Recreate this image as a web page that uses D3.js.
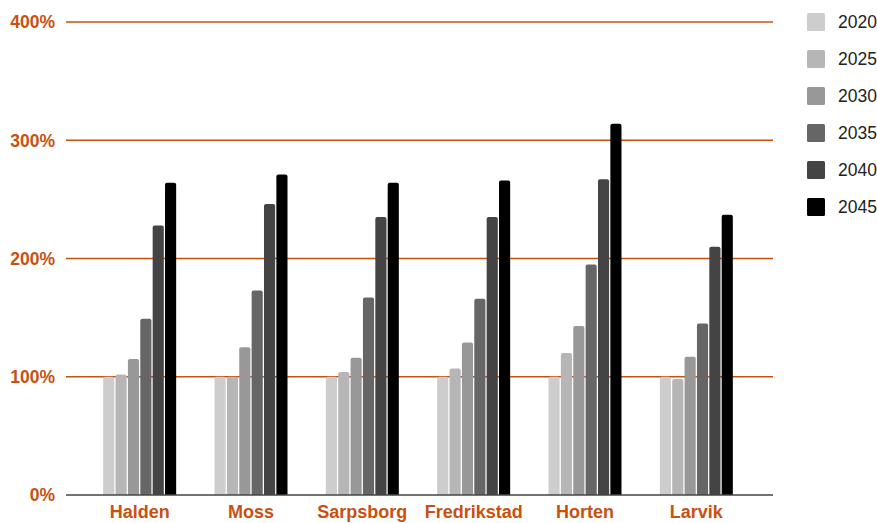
<!DOCTYPE html>
<html>
<head>
<meta charset="utf-8">
<script src="https://cdn.jsdelivr.net/npm/d3@7"></script>
<style>
  html, body { margin: 0; padding: 0; background: #fff; }
  svg { display: block; }
</style>
</head>
<body>
<svg id="chart" width="877" height="523"></svg>
<script>
// Population index by town (2020 = 100%)
const towns = ["Halden", "Moss", "Sarpsborg", "Fredrikstad", "Horten", "Larvik"];
const years = ["2020", "2025", "2030", "2035", "2040", "2045"];
const v2020 = [100, 100, 100, 100, 100, 100];
const v2025 = [102, 100, 104, 107, 120, 98];
const v2030 = [115, 125, 116, 129, 143, 117];
const v2035 = [149, 173, 167, 166, 195, 145];
const v2040 = [228, 246, 235, 235, 267, 210];
const v2045 = [264, 271, 264, 266, 314, 237];
const yTicks = [0, 100, 200, 300, 400];
const yearColors = ["#cdcdcd", "#b6b6b6", "#989898", "#666666", "#444444", "#000000"];

const seriesValues = [v2020, v2025, v2030, v2035, v2040, v2045];

const svg = d3.select("#chart");
const orange = "#c9510f";
const font = "Liberation Sans, Arial, sans-serif";

const y = d3.scaleLinear().domain([0, 400]).range([495, 22]);
const x0 = d3.scaleBand().domain(towns).range([84, 752]).padding(0);
const groupW = 73;
const x1 = d3.scaleBand().domain(years)
  .range([x0.bandwidth() / 2 - groupW / 2, x0.bandwidth() / 2 + groupW / 2])
  .paddingInner(0.1);
const color = d3.scaleOrdinal().domain(years).range(yearColors);

// gridlines
svg.append("g").selectAll("line")
  .data(yTicks.filter(d => d > 0))
  .join("line")
  .attr("x1", 66).attr("x2", 773)
  .attr("y1", d => y(d)).attr("y2", d => y(d))
  .attr("stroke", orange).attr("stroke-width", 1.5);

// tick labels
svg.append("g").selectAll("text")
  .data(yTicks)
  .join("text")
  .attr("x", 55).attr("y", d => y(d))
  .attr("dy", "0.36em")
  .attr("text-anchor", "end")
  .attr("font-family", font)
  .attr("font-weight", "bold")
  .attr("font-size", 17.5)
  .attr("fill", orange)
  .text(d => d + "%");

// bars
const data = towns.map((t, i) => ({
  town: t,
  values: years.map((yr, j) => ({ year: yr, value: seriesValues[j][i] }))
}));

const groups = svg.append("g").selectAll("g")
  .data(data)
  .join("g")
  .attr("transform", d => `translate(${x0(d.town)},0)`);

groups.selectAll("path")
  .data(d => d.values)
  .join("path")
  .attr("fill", d => color(d.year))
  .attr("d", d => {
    const bx = x1(d.year), bw = x1.bandwidth();
    const top = y(d.value), bot = y(0), r = 2;
    return `M${bx},${bot}V${top + r}Q${bx},${top} ${bx + r},${top}H${bx + bw - r}Q${bx + bw},${top} ${bx + bw},${top + r}V${bot}Z`;
  });

// baseline
svg.append("line")
  .attr("x1", 66).attr("x2", 773)
  .attr("y1", y(0)).attr("y2", y(0))
  .attr("stroke", "#444").attr("stroke-width", 1.5);

// category labels
svg.append("g").selectAll("text")
  .data(towns)
  .join("text")
  .attr("x", d => x0(d) + x0.bandwidth() / 2)
  .attr("y", 518)
  .attr("text-anchor", "middle")
  .attr("font-family", font)
  .attr("font-weight", "bold")
  .attr("font-size", 18)
  .attr("fill", orange)
  .text(d => d);

// legend
const legend = svg.append("g").selectAll("g")
  .data(years)
  .join("g")
  .attr("transform", (d, i) => `translate(807,${13 + i * 37})`);

legend.append("rect")
  .attr("width", 18).attr("height", 18).attr("rx", 1.5)
  .attr("fill", d => color(d));

legend.append("text")
  .attr("x", 31).attr("y", 9).attr("dy", "0.36em")
  .attr("font-family", font)
  .attr("font-size", 17.5)
  .attr("fill", "#222")
  .text(d => d);
</script>
</body>
</html>
